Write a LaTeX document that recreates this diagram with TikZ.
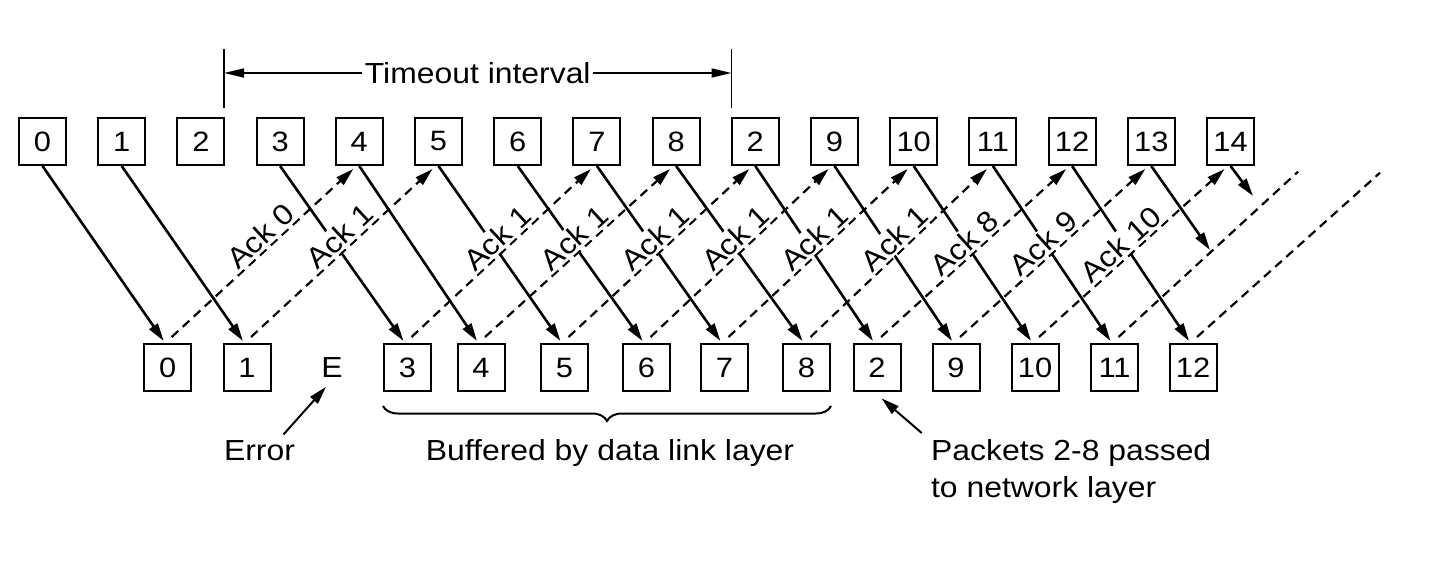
\documentclass[tikz,border=0pt]{standalone}
\usepackage{fontspec}
\setmainfont{Liberation Sans}[FakeStretch=1.1]
\usetikzlibrary{arrows.meta,decorations.pathreplacing}
\begin{document}
\begin{tikzpicture}[x=0.5pt,y=-0.5pt,
  box/.style={draw,line width=1pt,minimum width=23.5pt,minimum height=23.5pt,inner sep=0pt,font=\fontsize{14}{14}\selectfont},
  lbl/.style={font=\fontsize{14.5}{18.7}\selectfont,inner sep=0pt},
  tipA/.style={-{Triangle[length=9pt,width=5pt]}},
  frame/.style={line width=1.3pt,tipA},
  ackline/.style={line width=1.1pt,dash pattern=on 4.5pt off 3pt},
  ack/.style={ackline,tipA},
  acklbl/.style={lbl,sloped,above,fill=white,inner sep=1pt},
  thinline/.style={line width=0.8pt},
  note/.style={line width=1pt,tipA}
]
\useasboundingbox (0,0) rectangle (1433,562);

% sender frames (top)
\foreach \lab [count=\i from 0] in {0,1,2,3,4,5,6,7,8,2,9,10,11,12,13,14}
  \node[box] (t\i) at ({42.5+79.2*\i},141.5) {\lab};

% receiver frames (bottom)
\foreach \k/\x/\lab in {0/167.7/0,1/247/1,3/407.5/3,4/481/4,5/564.5/5,6/646.5/6,7/724.5/7,8/806.5/8,9/877/2,10/956/9,11/1035/10,12/1114.5/11,13/1193/12}
  \node[box] (b\k) at (\x,367.5) {\lab};
\node[lbl] (E) at (332,367.5) {E};

% free ends
\coordinate (f14) at (1210,250);
\coordinate (f15) at (1253,196);
\coordinate (d12) at (1298,171.7);
\coordinate (d13) at (1380,172.7);

% data frames
\foreach \k in {0,1,3,4,5,6,7,8,9,10,11,12,13}
  \draw[frame] (t\k.south) -- ([xshift=-2pt,yshift=1pt]b\k.north);
\draw[frame] (t14.south) -- (f14);
\draw[frame] (t15.south) -- (f15);

% acknowledgements
\foreach \k/\m/\txt/\p in {0/4/Ack 0/0.54,1/5/Ack 1/0.54,3/7/Ack 1/0.53,4/8/Ack 1/0.53,5/9/Ack 1/0.53,6/10/Ack 1/0.53,7/11/Ack 1/0.53,8/12/Ack 1/0.53,9/13/Ack 8/0.5,10/14/Ack 9/0.5,11/15/Ack 10/0.49}
  \draw[ack] ([xshift=2pt,yshift=3pt]b\k.north) -- ([xshift=-3pt,yshift=-1.5pt]t\m.south)
    node[acklbl,pos=\p] {\txt};
\draw[ackline] ([xshift=2pt,yshift=3pt]b12.north) -- (d12);
\draw[ackline] ([xshift=2pt,yshift=3pt]b13.north) -- (d13);

% timeout interval
\coordinate (L1) at (224,49);
\coordinate (L2) at (224,108);
\coordinate (R1) at (731.5,49);
\coordinate (R2) at (731.5,108);
\draw[thinline] (L1) -- (L2);
\draw[thinline] (R1) -- (R2);
\node[lbl,inner xsep=1pt] (to) at (477.75,73) {Timeout interval};
\draw[thinline,-{Triangle[length=10pt,width=4.5pt]}] (to.west) -- (L1 |- to.west);
\draw[thinline,-{Triangle[length=10pt,width=4.5pt]}] (to.east) -- (R1 |- to.east);

% annotations
\node[lbl,anchor=base] (err) at (259.5,460) {Error};
\draw[note] ([xshift=12pt,yshift=2.6pt]err.north) -- ([xshift=-3pt,yshift=-4.5pt]E.south);

\draw[line width=1pt,decorate,decoration={brace,mirror,amplitude=7.5pt}]
  ([yshift=-7pt]b3.south west) -- ([yshift=-7pt]b8.south east);
\node[lbl,anchor=base] (buf) at (610,460) {Buffered by data link layer};

\node[lbl,align=left,anchor=north west] (pk) at (930.7,439) {Packets 2-8 passed\\to network layer};
\draw[note] ([xshift=-4.5pt,yshift=3pt]pk.north west) -- ([xshift=2.3pt,yshift=-3.2pt]b9.south);
\end{tikzpicture}
\end{document}
